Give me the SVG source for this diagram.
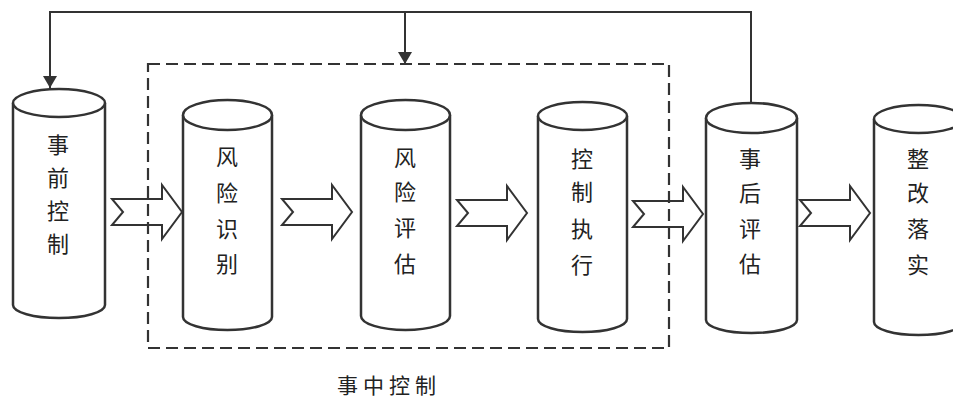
<svg xmlns="http://www.w3.org/2000/svg" xmlns:xlink="http://www.w3.org/1999/xlink" width="953" height="399" viewBox="0 0 953 399">
<style>
.cyl{fill:#fff;stroke:#333;stroke-width:2.5}
.lbl{font-family:"Noto Sans CJK SC","Noto Sans",sans-serif;font-size:22px;fill:#222;text-anchor:middle;dominant-baseline:central}
.cap{font-family:"Noto Sans CJK SC","Noto Sans",sans-serif;font-size:21px;fill:#222;letter-spacing:5px}
.blk{fill:#fff;stroke:#333;stroke-width:2;stroke-linejoin:miter}
.fb{fill:none;stroke:#333;stroke-width:2}
.dash{fill:none;stroke:#333;stroke-width:2.2;stroke-dasharray:12 6}
</style>
<defs>
<marker id="ah" viewBox="0 0 12 14" refX="12" refY="7" markerWidth="12" markerHeight="14" markerUnits="userSpaceOnUse" orient="auto">
<path d="M0,0 L12,7 L0,14 Z" fill="#333"/>
</marker>
<path id="blockArrow" d="M0,-13 L50,-13 L50,-27 L70,0 L50,27 L50,13 L0,13 L11,0 Z"/>
</defs>
<rect width="953" height="399" fill="#fff"/>

<g id="node-pre">
<path class="cyl" d="M13,103 L13,305 A46,13 0 0 0 105,305 L105,103"/>
<ellipse class="cyl" cx="59" cy="103" rx="46" ry="14"/>
<text class="lbl" x="58" y="143">事</text>
<text class="lbl" x="58" y="176">前</text>
<text class="lbl" x="58" y="209">控</text>
<text class="lbl" x="58" y="242">制</text>
</g>

<g id="node-identify">
<path class="cyl" d="M183,115 L183,317 A44.5,13 0 0 0 272,317 L272,115"/>
<ellipse class="cyl" cx="227.5" cy="115" rx="44.5" ry="15"/>
<text class="lbl" x="227" y="155">风</text>
<text class="lbl" x="227" y="191">险</text>
<text class="lbl" x="227" y="227">识</text>
<text class="lbl" x="227" y="262">别</text>
</g>

<g id="node-assess">
<path class="cyl" d="M361,115 L361,316 A44.5,14 0 0 0 450,316 L450,115"/>
<ellipse class="cyl" cx="405.5" cy="115" rx="44.5" ry="15"/>
<text class="lbl" x="405" y="156">风</text>
<text class="lbl" x="405" y="190">险</text>
<text class="lbl" x="405" y="226">评</text>
<text class="lbl" x="405" y="262">估</text>
</g>

<g id="node-execute">
<path class="cyl" d="M538,116 L538,319 A44.5,13 0 0 0 627,319 L627,116"/>
<ellipse class="cyl" cx="582.5" cy="116" rx="44.5" ry="14"/>
<text class="lbl" x="582" y="157">控</text>
<text class="lbl" x="582" y="190">制</text>
<text class="lbl" x="582" y="227">执</text>
<text class="lbl" x="582" y="263">行</text>
</g>

<g id="node-post">
<path class="cyl" d="M706,118 L706,320 A45.5,13 0 0 0 797,320 L797,118"/>
<ellipse class="cyl" cx="751.5" cy="118" rx="45.5" ry="15"/>
<text class="lbl" x="750" y="157">事</text>
<text class="lbl" x="750" y="191">后</text>
<text class="lbl" x="750" y="227">评</text>
<text class="lbl" x="750" y="262">估</text>
</g>

<g id="node-rectify">
<path class="cyl" d="M874,119 L874,322 A44.5,13 0 0 0 963,322 L963,119"/>
<ellipse class="cyl" cx="918.5" cy="119" rx="44.5" ry="14"/>
<text class="lbl" x="918" y="157">整</text>
<text class="lbl" x="918" y="191">改</text>
<text class="lbl" x="918" y="227">落</text>
<text class="lbl" x="918" y="263">实</text>
</g>

<g id="connectors">
<use xlink:href="#blockArrow" href="#blockArrow" class="blk" transform="translate(112,212)"/>
<use xlink:href="#blockArrow" href="#blockArrow" class="blk" transform="translate(282,212)"/>
<use xlink:href="#blockArrow" href="#blockArrow" class="blk" transform="translate(457,213)"/>
<use xlink:href="#blockArrow" href="#blockArrow" class="blk" transform="translate(633,214)"/>
<use xlink:href="#blockArrow" href="#blockArrow" class="blk" transform="translate(800,213)"/>
<path class="fb" d="M751,103 L751,12 L50,12 L50,88" marker-end="url(#ah)"/>
<path class="fb" d="M405,12 L405,64" marker-end="url(#ah)"/>
</g>

<g id="group-during">
<rect class="dash" x="148" y="64" width="521" height="284"/>
<text class="cap" x="337" y="393">事中控制</text>
</g>
</svg>
